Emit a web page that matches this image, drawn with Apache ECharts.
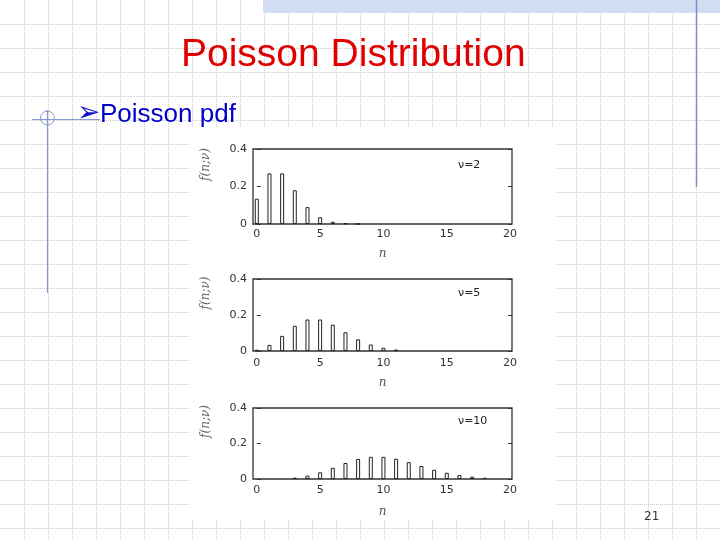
<!DOCTYPE html>
<html>
<head>
<meta charset="utf-8">
<script src="https://cdn.jsdelivr.net/npm/echarts@6/dist/echarts.min.js"></script>
<style>
html,body{margin:0;padding:0;background:#fff;}
#c{width:720px;height:540px;}
</style>
</head>
<body>
<div id="c"></div>
<script>
// ---- data ----
const n2  = [0, 1, 2, 3, 4, 5, 6, 7, 8];
const f2  = [0.135, 0.27, 0.27, 0.18, 0.09, 0.036, 0.012, 0.0035, 0.001];
const n5  = [0, 1, 2, 3, 4, 5, 6, 7, 8, 9, 10, 11];
const f5  = [0.007, 0.034, 0.084, 0.14, 0.175, 0.175, 0.146, 0.104, 0.065, 0.036, 0.018, 0.008];
const n10 = [3, 4, 5, 6, 7, 8, 9, 10, 11, 12, 13, 14, 15, 16, 17, 18];
const f10 = [0.0076, 0.019, 0.038, 0.063, 0.09, 0.113, 0.125, 0.125, 0.114, 0.095, 0.073, 0.052, 0.035, 0.022, 0.013, 0.007];
const xTickValues = [0, 5, 10, 15, 20];
const panelLabels = ['ν=2', 'ν=5', 'ν=10'];
const titleText = 'Poisson Distribution';
const bulletText = 'Poisson pdf';
const pageNumber = '21';

const panels = [
  {n: n2, f: f2, top: 149, height: 75, labelMargin: 5, nameGap: 24, lblTop: 160},
  {n: n5, f: f5, top: 279, height: 72, labelMargin: 7, nameGap: 26, lblTop: 288},
  {n: n10, f: f10, top: 408, height: 71, labelMargin: 6, nameGap: 27, lblTop: 416}
];

const chart = echarts.init(document.getElementById('c'), null, {renderer: 'canvas'});

// slide decoration: dotted background grid, band, lines
const graphics = [];
const gridColor = '#c9c9c9';
for (let x = 24; x < 720; x += 24) {
  graphics.push({type: 'line', silent: true, z: -10,
    shape: {x1: x + 0.5, y1: 0, x2: x + 0.5, y2: 540},
    style: {stroke: gridColor, lineWidth: 1, lineDash: [1, 1]}});
}
for (let y = 24; y < 540; y += 24) {
  graphics.push({type: 'line', silent: true, z: -10,
    shape: {x1: 0, y1: y + 0.5, x2: 720, y2: y + 0.5},
    style: {stroke: gridColor, lineWidth: 1, lineDash: [1, 1]}});
}
graphics.push({type: 'rect', silent: true, z: -9,
  shape: {x: 263, y: 0, width: 457, height: 13}, style: {fill: '#d3ddf1'}});
graphics.push({type: 'rect', silent: true, z: -9,
  shape: {x: 190, y: 128, width: 365, height: 392}, style: {fill: '#ffffff'}});
graphics.push({type: 'line', silent: true, z: -8,
  shape: {x1: 696.5, y1: 0, x2: 696.5, y2: 187}, style: {stroke: '#7e8cc4', lineWidth: 1.5}});
graphics.push({type: 'line', silent: true, z: -8,
  shape: {x1: 32, y1: 119.5, x2: 100, y2: 119.5}, style: {stroke: '#8898d0', lineWidth: 1.2}});
graphics.push({type: 'line', silent: true, z: -8,
  shape: {x1: 47.5, y1: 110, x2: 47.5, y2: 293}, style: {stroke: '#8898d0', lineWidth: 1.2}});
graphics.push({type: 'circle', silent: true, z: -8,
  shape: {cx: 47.5, cy: 118, r: 7}, style: {fill: 'none', stroke: '#8898d0', lineWidth: 1}});
graphics.push({type: 'text', silent: true, z: 5, x: 77, y: 100,
  style: {text: '➢', fill: '#1010c8', font: '28px "DejaVu Sans"'}});

const titles = [
  {text: titleText, left: 181, top: 36, padding: 0,
   textStyle: {color: '#e00000', fontSize: 39, fontWeight: 'normal', fontFamily: 'Liberation Sans'}},
  {text: bulletText, left: 100, top: 102, padding: 0,
   textStyle: {color: '#0000c8', fontSize: 26, fontWeight: 'normal', fontFamily: 'Liberation Sans'}},
  {text: pageNumber, left: 644, top: 511, padding: 0,
   textStyle: {color: '#333', fontSize: 12, fontWeight: 'normal', fontFamily: 'DejaVu Sans'}}
];

const grids = [], xAxes = [], yAxes = [], series = [];
panels.forEach((p, i) => {
  grids.push({left: 253, top: p.top, width: 259, height: p.height,
    show: true, borderColor: '#333', borderWidth: 1.3, backgroundColor: 'transparent'});
  titles.push({text: panelLabels[i], left: 458, top: p.lblTop, padding: 0,
    textStyle: {color: '#222', fontSize: 11, fontWeight: 'normal', fontFamily: 'DejaVu Sans'}});
  xAxes.push({type: 'value', gridIndex: i, min: -0.3, max: 20.15,
    name: 'n', nameLocation: 'middle', nameGap: p.nameGap,
    nameTextStyle: {fontFamily: 'DejaVu Serif', fontStyle: 'italic', fontSize: 12, color: '#555'},
    axisLine: {show: false}, splitLine: {show: false},
    axisTick: {show: false},
    axisLabel: {customValues: xTickValues, margin: p.labelMargin, color: '#333', fontSize: 11, fontFamily: 'DejaVu Sans'}});
  yAxes.push({type: 'value', gridIndex: i, min: 0, max: 0.4, interval: 0.2, position: 'left',
    name: 'f(n;ν)', nameLocation: 'middle', nameGap: 41,
    nameTextStyle: {fontFamily: 'DejaVu Serif', fontStyle: 'italic', fontSize: 12, color: '#666', padding: [0, 0, 0, 44]},
    axisLine: {show: false}, splitLine: {show: false},
    axisTick: {show: true, inside: true, length: 4, lineStyle: {color: '#333'}},
    axisLabel: {margin: 6, color: '#333', fontSize: 11, fontFamily: 'DejaVu Sans'}});
  yAxes.push({type: 'value', gridIndex: i, min: 0, max: 0.4, interval: 0.2, position: 'right',
    axisLine: {show: false}, splitLine: {show: false},
    axisTick: {show: true, inside: true, length: 4, lineStyle: {color: '#333'}},
    axisLabel: {show: false}});
  series.push({type: 'bar', xAxisIndex: i, yAxisIndex: 2 * i, barWidth: 4,
    itemStyle: {color: '#fff', borderColor: '#222', borderWidth: 1},
    data: p.n.map((n, k) => [n, p.f[k]]), silent: true, animation: false});
});

chart.setOption({
  animation: false,
  backgroundColor: '#fff',
  title: titles,
  graphic: graphics,
  grid: grids,
  xAxis: xAxes,
  yAxis: yAxes,
  series: series
});
</script>
</body>
</html>
